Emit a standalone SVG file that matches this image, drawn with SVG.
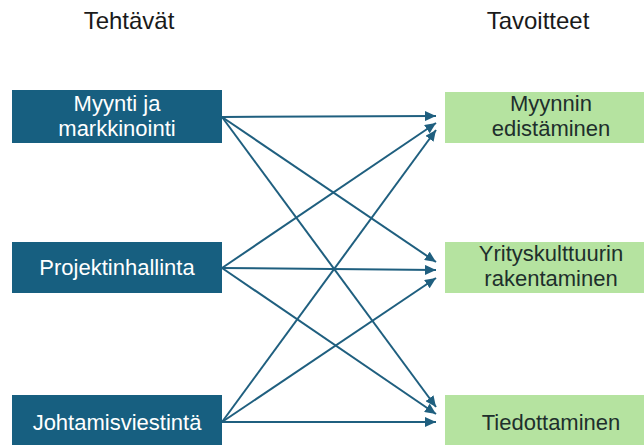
<svg xmlns="http://www.w3.org/2000/svg" width="644" height="445" viewBox="0 0 644 445">
  <style>
    .task rect { fill: #175f80; }
    .goal rect { fill: #b5e3a0; }
    text { font-family: "Liberation Sans", Arial, sans-serif; text-anchor: middle; }
    .head { font-size: 24px; fill: #1a1a1a; }
    .task text { font-size: 22px; fill: #ffffff; }
    .goal text { font-size: 22px; fill: #1e2f2c; }
    .conn line { stroke: #1f5f7f; stroke-width: 2; marker-end: url(#arrow); }
  </style>
  <defs>
    <marker id="arrow" markerUnits="userSpaceOnUse" markerWidth="12" markerHeight="10" refX="11" refY="5" orient="auto">
      <path d="M0,0 L11,5 L0,10 Z" fill="#1f5f7f"/>
    </marker>
  </defs>
  <rect width="644" height="445" fill="#ffffff"/>

  <!-- column headings -->
  <text class="head" x="129" y="29">Tehtävät</text>
  <text class="head" x="538" y="29">Tavoitteet</text>

  <!-- connectors: every task points to every goal -->
  <g id="connectors" class="conn">
    <line x1="222" y1="117" x2="436" y2="116"/>
    <line x1="222" y1="117" x2="436" y2="262"/>
    <line x1="222" y1="117" x2="436" y2="407"/>
    <line x1="222" y1="268" x2="436" y2="123"/>
    <line x1="222" y1="268" x2="436" y2="270"/>
    <line x1="222" y1="268" x2="436" y2="414"/>
    <line x1="222" y1="422" x2="436" y2="130"/>
    <line x1="222" y1="422" x2="436" y2="278"/>
    <line x1="222" y1="422" x2="436" y2="422"/>
  </g>

  <!-- tasks -->
  <g id="task-myynti" class="task">
    <rect x="12" y="90" width="210" height="53"/>
    <text x="117" y="111">Myynti ja</text>
    <text x="117" y="136">markkinointi</text>
  </g>
  <g id="task-projekti" class="task">
    <rect x="12" y="242" width="210" height="51"/>
    <text x="117" y="275">Projektinhallinta</text>
  </g>
  <g id="task-johtamis" class="task">
    <rect x="12" y="395" width="210" height="55"/>
    <text x="117" y="430">Johtamisviestintä</text>
  </g>

  <!-- goals -->
  <g id="goal-myynnin" class="goal">
    <rect x="445" y="92" width="210" height="51"/>
    <text x="551" y="111">Myynnin</text>
    <text x="551" y="136">edistäminen</text>
  </g>
  <g id="goal-yrityskulttuuri" class="goal">
    <rect x="445" y="242" width="210" height="51"/>
    <text x="551" y="261">Yrityskulttuurin</text>
    <text x="551" y="286">rakentaminen</text>
  </g>
  <g id="goal-tiedottaminen" class="goal">
    <rect x="445" y="395" width="210" height="55"/>
    <text x="551" y="430">Tiedottaminen</text>
  </g>
</svg>
